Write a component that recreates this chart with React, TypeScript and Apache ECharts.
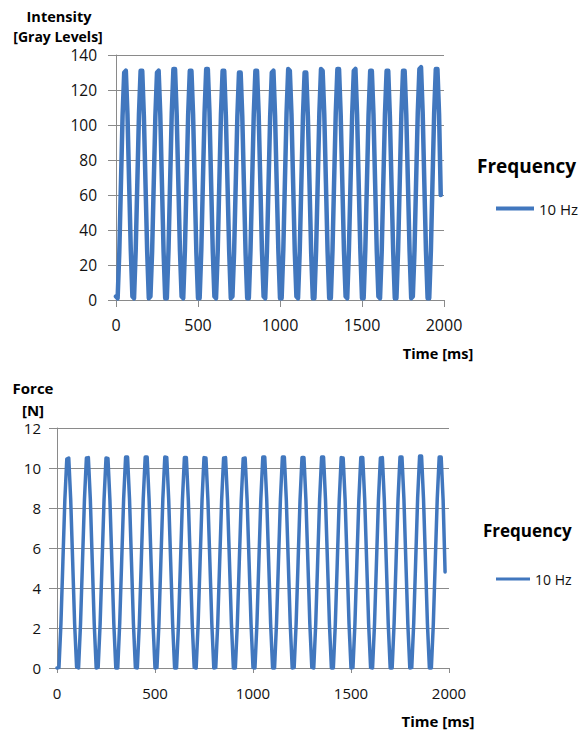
import React, { useEffect, useRef } from "react";
import * as echarts from "echarts";

// Sampling step of both recordings (ms)
const SAMPLE_MS = 10;

// Axis ticks
const timeTicks = [0, 500, 1000, 1500, 2000];
const intensityTicks = [0, 20, 40, 60, 80, 100, 120, 140];
const forceTicks = [0, 2, 4, 6, 8, 10, 12];

const seriesName = "10 Hz";

// Intensity [gray levels], one sample every 10 ms from 0 to 1980 ms
const intensity: number[] = [
  2, 1, 27, 66, 105, 130, 131, 106, 67, 29,
  2, 1, 28, 67, 106, 131, 131, 105, 66, 28,
  1, 2, 27, 66, 105, 130, 131, 106, 67, 28,
  1, 1, 28, 68, 107, 132, 132, 106, 67, 28,
  2, 1, 28, 67, 106, 131, 131, 106, 66, 27,
  1, 1, 28, 68, 107, 132, 132, 107, 67, 28,
  2, 1, 27, 67, 106, 131, 131, 105, 66, 28,
  1, 2, 27, 66, 105, 130, 130, 105, 66, 27,
  1, 1, 28, 67, 106, 131, 131, 106, 67, 28,
  2, 1, 27, 66, 105, 130, 131, 105, 66, 28,
  1, 1, 28, 68, 107, 132, 131, 106, 67, 28,
  2, 1, 27, 66, 105, 130, 130, 105, 66, 27,
  1, 1, 28, 67, 107, 132, 131, 106, 67, 28,
  1, 1, 28, 68, 107, 132, 132, 106, 67, 28,
  2, 1, 28, 67, 106, 131, 132, 106, 66, 28,
  1, 1, 28, 67, 106, 131, 131, 106, 67, 28,
  2, 1, 27, 67, 106, 131, 131, 105, 66, 28,
  1, 1, 28, 67, 106, 131, 131, 106, 67, 28,
  1, 2, 28, 68, 107, 132, 133, 107, 67, 28,
  1, 1, 28, 68, 107, 132, 132, 106, 60,
];

// Force [N], one sample every 10 ms from 0 to 1980 ms
const force: number[] = [
  0, 0.02, 2.2, 5.3, 8.4, 10.45, 10.5, 8.4, 5.3, 2.2,
  0.05, 0, 2.2, 5.3, 8.4, 10.5, 10.52, 8.45, 5.3, 2.2,
  0, 0.03, 2.2, 5.3, 8.4, 10.5, 10.48, 8.4, 5.3, 2.2,
  0, 0, 2.25, 5.35, 8.45, 10.55, 10.55, 8.45, 5.3, 2.2,
  0.02, 0, 2.2, 5.3, 8.45, 10.55, 10.55, 8.4, 5.3, 2.2,
  0, 0.02, 2.2, 5.35, 8.45, 10.55, 10.53, 8.4, 5.3, 2.2,
  0, 0, 2.2, 5.3, 8.4, 10.52, 10.52, 8.4, 5.3, 2.2,
  0.03, 0, 2.2, 5.3, 8.4, 10.52, 10.5, 8.4, 5.3, 2.2,
  0, 0.02, 2.2, 5.3, 8.4, 10.5, 10.52, 8.4, 5.3, 2.2,
  0, 0, 2.2, 5.3, 8.4, 10.48, 10.5, 8.4, 5.3, 2.2,
  0.02, 0, 2.2, 5.35, 8.45, 10.55, 10.55, 8.45, 5.3, 2.2,
  0, 0, 2.25, 5.35, 8.45, 10.55, 10.55, 8.4, 5.3, 2.2,
  0, 0.02, 2.2, 5.3, 8.4, 10.52, 10.52, 8.4, 5.3, 2.2,
  0.03, 0, 2.2, 5.35, 8.45, 10.55, 10.55, 8.4, 5.3, 2.2,
  0, 0, 2.2, 5.3, 8.4, 10.52, 10.5, 8.4, 5.3, 2.2,
  0, 0.02, 2.2, 5.3, 8.4, 10.52, 10.52, 8.4, 5.3, 2.2,
  0.02, 0, 2.2, 5.3, 8.4, 10.5, 10.52, 8.4, 5.3, 2.2,
  0, 0, 2.25, 5.35, 8.45, 10.55, 10.55, 8.45, 5.3, 2.2,
  0, 0.02, 2.25, 5.35, 8.5, 10.6, 10.6, 8.45, 5.35, 2.2,
  0, 0, 2.2, 5.35, 8.45, 10.55, 10.55, 8.4, 4.8,
];

const LINE = "#4177BE";
const GRID = "#8a8a8a";
const FONT = "'Open Sans', 'Liberation Sans', sans-serif";
const TXT = "#111";

export default function App() {
  const ref = useRef<HTMLDivElement>(null);

  useEffect(() => {
    if (!ref.current) return;
    const chart = echarts.init(ref.current, undefined, { renderer: "svg" });

    const toPairs = (vals: number[]) => vals.map((v, i) => [i * SAMPLE_MS, v]);
    const plain = (v: number) => String(v);

    const xAxisBase = (tickLen: number, fontSize: number, margin: number) => ({
      type: "value" as const,
      min: timeTicks[0],
      max: timeTicks[timeTicks.length - 1],
      interval: timeTicks[1] - timeTicks[0],
      axisLine: { show: true, lineStyle: { color: GRID, width: 1 } },
      axisTick: { show: true, length: tickLen, lineStyle: { color: GRID } },
      splitLine: { show: false },
      axisLabel: { color: TXT, fontSize, fontFamily: FONT, margin, formatter: plain },
    });

    const yAxisBase = (ticks: number[], fontSize: number, margin: number) => ({
      type: "value" as const,
      min: ticks[0],
      max: ticks[ticks.length - 1],
      interval: ticks[1] - ticks[0],
      axisLine: { show: true, lineStyle: { color: GRID, width: 1 } },
      axisTick: { show: true, length: 8, lineStyle: { color: GRID } },
      splitLine: { show: true, lineStyle: { color: GRID, width: 1 } },
      axisLabel: { color: TXT, fontSize, fontFamily: FONT, margin, formatter: plain },
    });

    const boldText = (text: string, x: number, y: number, size: number, align = "center") => ({
      type: "text",
      x,
      y,
      style: {
        text,
        fill: "#000",
        font: `bold ${size}px ${FONT}`,
        textAlign: align,
        textVerticalAlign: "middle",
      },
    });

    chart.setOption({
      animation: false,
      backgroundColor: "#fff",
      grid: [
        { left: 116, top: 55, width: 328, height: 245 },
        { left: 57, top: 428, width: 392, height: 240 },
      ],
      xAxis: [
        { ...xAxisBase(7, 16, 17), gridIndex: 0 },
        { ...xAxisBase(5, 15, 17), gridIndex: 1 },
      ],
      yAxis: [
        { ...yAxisBase(intensityTicks, 15.5, 19), gridIndex: 0 },
        { ...yAxisBase(forceTicks, 15, 16), gridIndex: 1 },
      ],
      legend: [
        {
          data: [seriesName],
          left: 496,
          top: 201,
          padding: 0,
          icon: "rect",
          itemWidth: 38,
          itemHeight: 4,
          textStyle: { color: TXT, fontSize: 15, fontFamily: FONT },
        },
        {
          data: [seriesName],
          left: 496,
          top: 572,
          padding: 0,
          icon: "rect",
          itemWidth: 34,
          itemHeight: 3,
          textStyle: { color: TXT, fontSize: 14, fontFamily: FONT },
        },
      ],
      series: [
        {
          name: seriesName,
          type: "line",
          xAxisIndex: 0,
          yAxisIndex: 0,
          data: toPairs(intensity),
          showSymbol: false,
          symbol: "none",
          clip: false,
          lineStyle: { color: LINE, width: 4.5, cap: "round", join: "round" },
          itemStyle: { color: LINE },
        },
        {
          name: seriesName,
          type: "line",
          xAxisIndex: 1,
          yAxisIndex: 1,
          data: toPairs(force),
          showSymbol: false,
          symbol: "none",
          clip: false,
          lineStyle: { color: LINE, width: 3.5, cap: "round", join: "round" },
          itemStyle: { color: LINE },
        },
      ],
      graphic: [
        boldText("Intensity", 59, 16, 14.5),
        boldText("[Gray Levels]", 58, 36, 14),
        boldText("Time [ms]", 438, 353, 14.5),
        boldText("Frequency", 477, 166, 19, "left"),
        boldText("Force", 33, 388, 15),
        boldText("[N]", 33, 410, 15),
        boldText("Time [ms]", 438, 721, 15),
        boldText("Frequency", 483, 530, 17, "left"),
      ],
    });

    return () => chart.dispose();
  }, []);

  return (
    <div
      ref={ref}
      style={{ position: "absolute", left: 0, top: 0, width: 584, height: 731 }}
    />
  );
}
